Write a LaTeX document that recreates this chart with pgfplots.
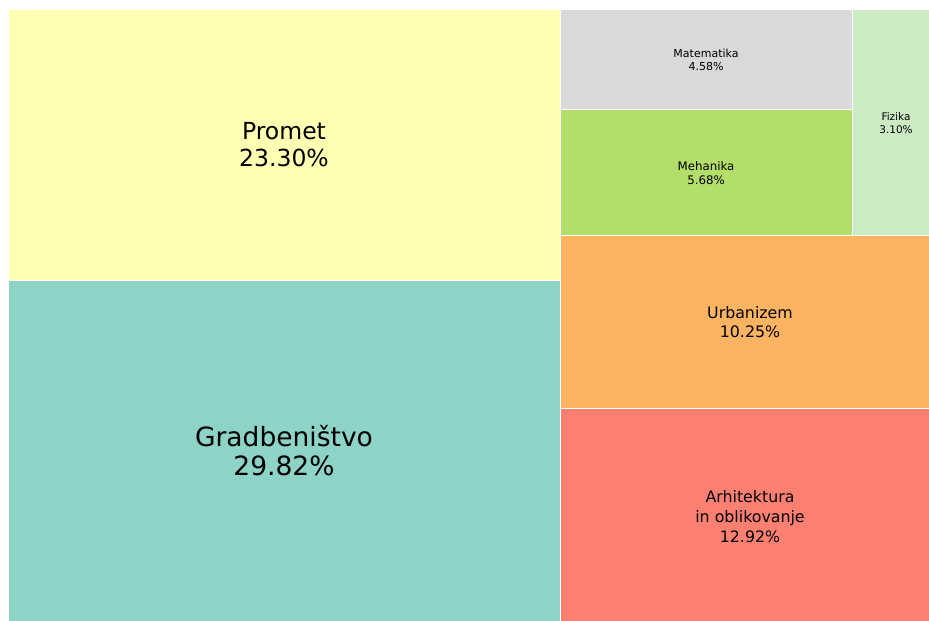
\documentclass[border=0pt]{standalone}
\usepackage{pgfplots}
\pgfplotsset{compat=1.18}
\usepackage{fontspec}
\setmainfont{DejaVu Sans}
\definecolor{cGrad}{HTML}{8DD3C7}
\definecolor{cProm}{HTML}{FFFFB3}
\definecolor{cArh}{HTML}{FB8072}
\definecolor{cUrb}{HTML}{FDB462}
\definecolor{cMeh}{HTML}{B3DE69}
\definecolor{cMat}{HTML}{D9D9D9}
\definecolor{cFiz}{HTML}{CCEBC5}
\begin{document}
\begin{tikzpicture}
\begin{axis}[
  scale only axis, width=929pt, height=621pt,
  xmin=0, xmax=929, ymin=0, ymax=621,
  hide axis, clip=true,
]
\path (axis cs:0,0) rectangle (axis cs:929,621);
% Gradbenistvo
\addplot[fill=cGrad, draw=white, line width=1pt] coordinates {(8,-1) (560,-1) (560,340) (8,340)} --cycle;
% Promet
\addplot[fill=cProm, draw=white, line width=1pt] coordinates {(8,340) (560,340) (560,611) (8,611)} --cycle;
% Arhitektura
\addplot[fill=cArh, draw=white, line width=1pt] coordinates {(560,-1) (940,-1) (940,212) (560,212)} --cycle;
% Urbanizem
\addplot[fill=cUrb, draw=white, line width=1pt] coordinates {(560,212) (940,212) (940,385) (560,385)} --cycle;
% Mehanika
\addplot[fill=cMeh, draw=white, line width=1pt] coordinates {(560,385) (852,385) (852,511) (560,511)} --cycle;
% Matematika
\addplot[fill=cMat, draw=white, line width=1pt] coordinates {(560,511) (852,511) (852,611) (560,611)} --cycle;
% Fizika
\addplot[fill=cFiz, draw=white, line width=1pt] coordinates {(852,385) (940,385) (940,611) (852,611)} --cycle;

\node[align=center, font=\fontsize{26.5pt}{29pt}\selectfont] at (axis cs:284,170) {Gradbeništvo\\29.82\%};
\node[align=center, font=\fontsize{23.5pt}{27pt}\selectfont] at (axis cs:284,476.5) {Promet\\23.30\%};
\node[align=center, font=\fontsize{15.8pt}{20pt}\selectfont] at (axis cs:750,104) {Arhitektura\\in oblikovanje\\12.92\%};
\node[align=center, font=\fontsize{15.8pt}{18.5pt}\selectfont] at (axis cs:750,299) {Urbanizem\\10.25\%};
\node[align=center, font=\fontsize{11.8pt}{13.5pt}\selectfont] at (axis cs:706,448) {Mehanika\\5.68\%};
\node[align=center, font=\fontsize{11pt}{13pt}\selectfont] at (axis cs:706,561) {Matematika\\4.58\%};
\node[align=center, font=\fontsize{10.5pt}{12.5pt}\selectfont] at (axis cs:896,498) {Fizika\\3.10\%};
\end{axis}
\end{tikzpicture}
\end{document}
